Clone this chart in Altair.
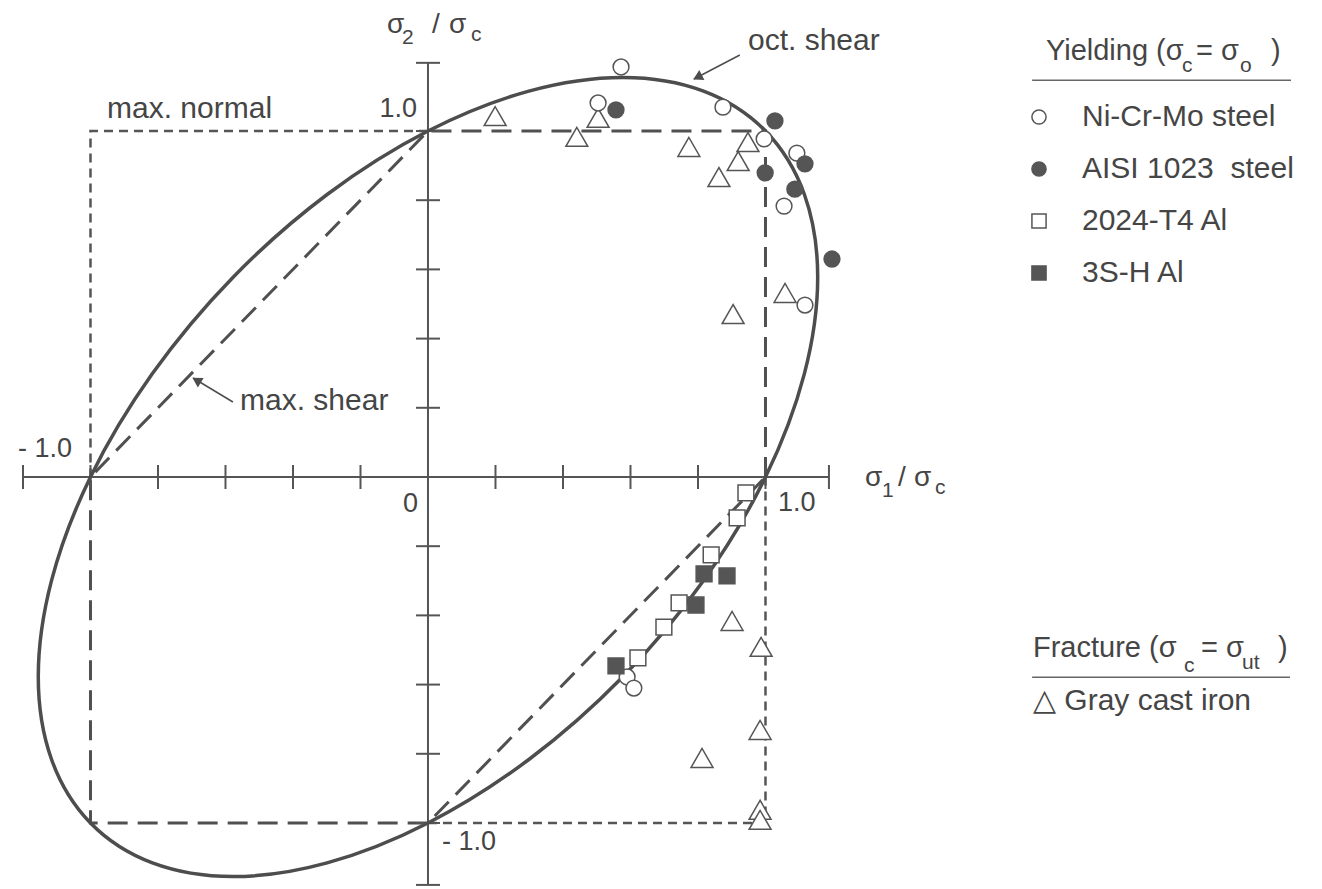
import altair as alt
import pandas as pd

# ---------------- data (sigma / sigma_c) ----------------
# octahedral shear (von Mises) ellipse, read around the curve
OCT_S1 = [1.0, 0.8165, 0.5774, 0.2989, 0.0, -0.2989, -0.5774, -0.8165, -1.0, -1.1153, -1.1547, -1.1153,
          -1.0, -0.8165, -0.5774, -0.2989, 0.0, 0.2989, 0.5774, 0.8165, 1.0, 1.1153, 1.1547, 1.1153]
OCT_S2 = [1.0, 1.1153, 1.1547, 1.1153, 1.0, 0.8165, 0.5774, 0.2989, 0.0, -0.2989, -0.5774, -0.8165,
          -1.0, -1.1153, -1.1547, -1.1153, -1.0, -0.8165, -0.5774, -0.2989, 0.0, 0.2989, 0.5774, 0.8165]

# max. shear (Tresca) hexagon
TRESCA_S1 = [1.0, 1.0, 0.0, -1.0, -1.0, 0.0, 1.0]
TRESCA_S2 = [0.0, 1.0, 1.0, 0.0, -1.0, -1.0, 0.0]

# max. normal (Rankine) square, parts not shared with the hexagon
RANKINE_S1 = [0.0, -1.0, -1.0, 0.0, 1.0, 1.0]
RANKINE_S2 = [1.0, 1.0, 0.0, -1.0, -1.0, 0.0]
RANKINE_SEG = ["upper", "upper", "upper", "lower", "lower", "lower"]

MATERIALS = ["Ni-Cr-Mo steel", "AISI 1023 \u00a0steel", "2024-T4 Al", "3S-H Al"]
NICRMO_S1 = [0.572, 0.504, 0.874, 0.996, 1.093, 1.055, 1.117, 0.590, 0.610]
NICRMO_S2 = [1.185, 1.081, 1.069, 0.977, 0.936, 0.783, 0.497, -0.578, -0.610]
AISI_S1 = [0.557, 1.028, 0.999, 1.117, 1.087, 1.197]
AISI_S2 = [1.061, 1.029, 0.879, 0.905, 0.832, 0.630]
AL2024_S1 = [0.942, 0.916, 0.839, 0.744, 0.699, 0.622]
AL2024_S2 = [-0.046, -0.118, -0.225, -0.364, -0.434, -0.523]
AL3SH_S1 = [0.818, 0.886, 0.794, 0.557]
AL3SH_S2 = [-0.280, -0.286, -0.370, -0.546]
IRON_S1 = [0.199, 0.504, 0.441, 0.773, 0.948, 0.919, 0.862, 1.058, 0.904,
           0.901, 0.987, 0.984, 0.812, 0.984, 0.984]
IRON_S2 = [1.043, 1.038, 0.983, 0.954, 0.968, 0.913, 0.867, 0.532, 0.471,
           -0.416, -0.491, -0.731, -0.812, -0.962, -0.991]

TICKS = [-1.0, -0.8, -0.6, -0.4, -0.2, 0.2, 0.4, 0.6, 0.8, 1.0]
X_AXIS_ENDS = [-1.2, 1.188]
Y_AXIS_ENDS = [-1.179, 1.197]

# ---------------- styling ----------------
W, H = 1306, 880
XS = alt.Scale(domain=[-1.2444, 2.6252], nice=False, zero=False)
YS = alt.Scale(domain=[-1.1879, 1.3555], nice=False, zero=False)
INK = "#4d4d4d"
TXT = "#454545"
FONT = "Liberation Sans"


def pos(fx="s1", fy="s2"):
    return dict(x=alt.X(f"{fx}:Q", scale=XS, axis=None),
                y=alt.Y(f"{fy}:Q", scale=YS, axis=None))


# ---------------- frames ----------------
oct_df = pd.DataFrame({"s1": OCT_S1, "s2": OCT_S2, "i": list(range(len(OCT_S1)))})
tres_df = pd.DataFrame({"s1": TRESCA_S1, "s2": TRESCA_S2, "i": list(range(len(TRESCA_S1)))})
rank_df = pd.DataFrame({"s1": RANKINE_S1, "s2": RANKINE_S2, "seg": RANKINE_SEG,
                        "i": list(range(len(RANKINE_S1)))})

rows = []
for name, xs, ys in [(MATERIALS[0], NICRMO_S1, NICRMO_S2), (MATERIALS[1], AISI_S1, AISI_S2),
                     (MATERIALS[2], AL2024_S1, AL2024_S2), (MATERIALS[3], AL3SH_S1, AL3SH_S2)]:
    for a, b in zip(xs, ys):
        rows.append({"s1": a, "s2": b, "material": name})
yield_df = pd.DataFrame(rows)
iron_df = pd.DataFrame({"s1": IRON_S1, "s2": IRON_S2})

# ---------------- layers ----------------
ellipse = alt.Chart(oct_df).mark_line(
    interpolate="cardinal-closed", stroke=INK, strokeWidth=3.5
).encode(**pos(), order="i:Q")

tresca = alt.Chart(tres_df).mark_line(
    stroke="#505050", strokeWidth=3, strokeDash=[20, 10]
).encode(**pos(), order="i:Q")

rankine = alt.Chart(rank_df).mark_line(
    stroke="#555555", strokeWidth=2.5, strokeDash=[9, 6]
).encode(**pos(), order="i:Q", detail="seg:N")

xaxis = alt.Chart(pd.DataFrame({"a": [X_AXIS_ENDS[0]], "b": [X_AXIS_ENDS[1]], "z": [0.0]})).mark_rule(
    stroke="#555555", strokeWidth=2
).encode(x=alt.X("a:Q", scale=XS, axis=None), x2="b:Q", y=alt.Y("z:Q", scale=YS, axis=None))

yaxis = alt.Chart(pd.DataFrame({"a": [Y_AXIS_ENDS[0]], "b": [Y_AXIS_ENDS[1]], "z": [0.0]})).mark_rule(
    stroke="#555555", strokeWidth=2
).encode(y=alt.Y("a:Q", scale=YS, axis=None), y2="b:Q", x=alt.X("z:Q", scale=XS, axis=None))

xticks = alt.Chart(pd.DataFrame({"t": TICKS + X_AXIS_ENDS, "z": 0.0})).mark_tick(
    orient="vertical", size=24, thickness=2, color="#555555", opacity=1
).encode(x=alt.X("t:Q", scale=XS, axis=None), y=alt.Y("z:Q", scale=YS, axis=None))

yticks = alt.Chart(pd.DataFrame({"t": TICKS + Y_AXIS_ENDS, "z": 0.0})).mark_tick(
    orient="horizontal", size=24, thickness=2, color="#555555", opacity=1
).encode(y=alt.Y("t:Q", scale=YS, axis=None), x=alt.X("z:Q", scale=XS, axis=None))

LEG = alt.Legend(
    orient="none", legendX=1016, legendY=94, title=None, padding=0,
    labelFontSize=30, labelFont=FONT, labelColor=TXT, labelOffset=28, labelLimit=400,
    symbolSize=200, symbolStrokeWidth=1.5,
    rowPadding=22,
)

yield_pts = alt.Chart(yield_df).mark_point(
    filled=True, size=250, strokeWidth=1.5, opacity=1
).encode(
    **pos(),
    fill=alt.Fill("material:N", scale=alt.Scale(domain=MATERIALS,
                  range=["white", "#555555", "white", "#555555"]), legend=LEG),
    shape=alt.Shape("material:N", scale=alt.Scale(domain=MATERIALS,
                    range=["circle", "circle", "square", "square"]), legend=LEG),
    stroke=alt.Stroke("material:N", scale=alt.Scale(domain=MATERIALS,
                      range=["#555555", "#555555", "#555555", "#555555"]), legend=LEG),
)

iron_pts = alt.Chart(iron_df).mark_point(
    shape="triangle-up", filled=True, fill="white", size=480,
    stroke="#555555", strokeWidth=1.5, opacity=1
).encode(**pos())

# annotation arrows
arrow_df = pd.DataFrame({"s1": [0.924, 0.788, -0.578, -0.696],
                         "s2": [1.2197, 1.1503, 0.2168, 0.2861],
                         "g": ["oct", "oct", "shear", "shear"]})
arrows = alt.Chart(arrow_df).mark_line(stroke=INK, strokeWidth=1.5).encode(**pos(), detail="g:N")
head_df = pd.DataFrame({"s1": [0.800, -0.6844], "s2": [1.156, 0.2789], "ang": [243, 301]})
heads = alt.Chart(head_df).mark_point(
    shape="triangle-up", filled=True, fill=INK, stroke=INK, size=60, opacity=1
).encode(**pos(), angle=alt.Angle("ang:Q", scale=None))

# texts
left_txt = pd.DataFrame([
    ("max. normal", -0.951, 1.0376, 30),
    ("- 1.0", -1.215, 0.0587, 27),
    ("1.0", 1.037, -0.098, 27),
    ("- 1.0", 0.0415, -1.078, 27),
    ("max. shear", -0.557, 0.1936, 30),
    ("oct. shear", 0.948, 1.234, 30),
    ("σ", -0.1215, 1.2832, 28), ("2", -0.0770, 1.2514, 21), ("/", 0.0119, 1.2832, 28),
    ("σ", 0.0622, 1.2832, 28), ("c", 0.1274, 1.2601, 21),
    ("σ", 1.2948, -0.026, 28), ("1", 1.345, -0.0578, 21), ("/", 1.3926, -0.026, 28),
    ("σ", 1.44, -0.026, 28), ("c", 1.502, -0.049, 21),
    ("Yielding (σ", 1.831, 1.2052, 29), ("c", 2.234, 1.1705, 21), ("= σ", 2.2756, 1.2052, 29),
    ("o", 2.406, 1.1705, 21), (")", 2.498, 1.2052, 29),
    ("Fracture (σ", 1.7926, -0.5202, 29), ("c", 2.24, -0.5636, 21), ("= σ", 2.2904, -0.5202, 29),
    ("ut", 2.412, -0.555, 21), (")", 2.5185, -0.5202, 29),
    ("△ Gray cast iron", 1.7926, -0.673, 30),
], columns=["text", "s1", "s2", "fs"])
right_txt = pd.DataFrame([
    ("1.0", -0.0326, 1.041, 27),
    ("0", -0.0296, -0.101, 27),
], columns=["text", "s1", "s2", "fs"])

texts_l = alt.Chart(left_txt).mark_text(
    align="left", baseline="alphabetic", font=FONT, color=TXT
).encode(**pos(), text="text:N", size=alt.Size("fs:Q", scale=None))
texts_r = alt.Chart(right_txt).mark_text(
    align="right", baseline="alphabetic", font=FONT, color=TXT
).encode(**pos(), text="text:N", size=alt.Size("fs:Q", scale=None))

underline_df = pd.DataFrame({"a": [1.79, 1.79], "b": [2.557, 2.554], "y": [1.147, -0.579]})
underlines = alt.Chart(underline_df).mark_rule(stroke="#666666", strokeWidth=1.5).encode(
    x=alt.X("a:Q", scale=XS, axis=None), x2="b:Q", y=alt.Y("y:Q", scale=YS, axis=None))

chart = alt.layer(
    rankine, tresca, xaxis, yaxis, xticks, yticks, ellipse, arrows, heads,
    iron_pts, yield_pts, texts_l, texts_r, underlines
).properties(width=W, height=H, padding=0, background="white").configure_view(stroke=None)

chart.save("out.html", embed_options={"renderer": "svg", "actions": False})
